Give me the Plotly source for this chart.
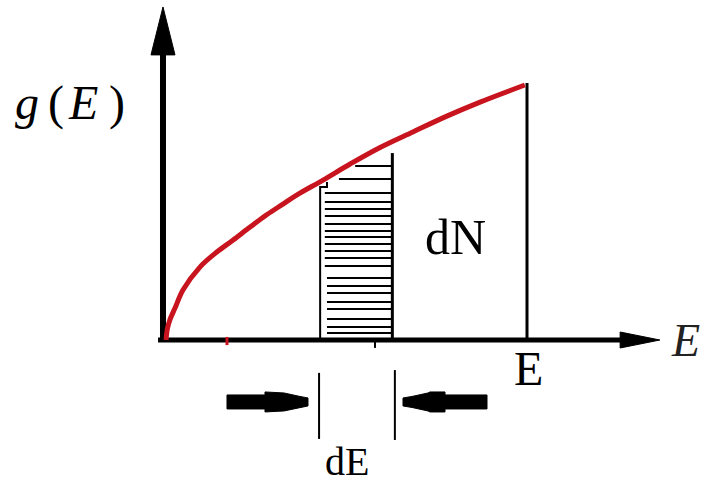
import plotly.graph_objects as go

# Density of states g(E) ~ sqrt(E); energy in units of the cut-off E, g in units of g(E)
curve_E = [0.0, 0.004, 0.011, 0.025, 0.047, 0.094, 0.141, 0.186, 0.233, 0.280, 0.324, 0.363,
           0.435, 0.510, 0.593, 0.684, 0.778, 0.870, 0.994]
curve_g = [0.0, 0.045, 0.080, 0.125, 0.196, 0.286, 0.345, 0.392, 0.443, 0.492, 0.533, 0.569,
           0.627, 0.690, 0.755, 0.816, 0.878, 0.933, 1.000]

E_cut = 1.0          # upper energy E
g_cut = 1.0          # g at E
strip_lo = 0.427     # left edge of the dE strip
strip_hi = 0.627     # right edge of the dE strip
strip_top_left = 0.600
strip_top_right = 0.733

# hatch levels inside the strip (g values)
hatch_g = [0.576, 0.541, 0.514, 0.486, 0.455, 0.427, 0.404, 0.376, 0.349, 0.322,
           0.290, 0.243, 0.212, 0.184, 0.149, 0.122, 0.082, 0.051, 0.027]
# short stepped lines near the top of the strip: (start E, level g)
step_lines = [(0.479, 0.631), (0.524, 0.682)]

dE_marks = [0.424, 0.634]    # vertical bars of the dE dimension
mid_tick = 0.579

BLACK = "#000000"
RED = "#c8141e"
SERIF = "Times New Roman, Liberation Serif, serif"

X_RANGE = [-0.4598, 1.4903]
Y_RANGE = [-0.5804, 1.3333]
px_x = (X_RANGE[1] - X_RANGE[0]) / 704.0
px_y = (Y_RANGE[1] - Y_RANGE[0]) / 488.0

fig = go.Figure()


def seg(xs, ys, width, color=BLACK, shape="linear"):
    fig.add_trace(go.Scatter(x=xs, y=ys, mode="lines", hoverinfo="skip",
                             line=dict(color=color, width=width, shape=shape),
                             showlegend=False))


def poly(xs, ys, color=BLACK):
    fig.add_trace(go.Scatter(x=xs + [xs[0]], y=ys + [ys[0]], mode="lines", fill="toself",
                             fillcolor=color, line=dict(color=color, width=1),
                             hoverinfo="skip", showlegend=False))


# axes
axis_x0 = -0.0083
seg([axis_x0, axis_x0], [-0.008, 1.13], 6)
poly([axis_x0 - 12 * px_x, axis_x0 + 12 * px_x, axis_x0],
     [1.118, 1.118, 1.306])
seg([-0.022, 1.27], [0.0, 0.0], 5)
poly([1.258, 1.258, 1.368], [8 * px_y, -8 * px_y, 0.0])

# hatched strip
xs, ys = [], []
for i, g in enumerate(hatch_g):
    start = 0.440 if i < 11 else 0.446
    xs += [start, strip_hi, None]
    ys += [g, g, None]
for e0, g in step_lines:
    xs += [e0, strip_hi, None]
    ys += [g, g, None]
seg(xs, ys, 2)
seg([strip_lo, strip_lo, 0.446, 0.446], [0.0, strip_top_left, strip_top_left, 0.62], 2)
seg([strip_hi, strip_hi], [0.0, strip_top_right], 3)
seg([mid_tick, mid_tick], [0.0, -0.031], 2)

# cut-off line at E
seg([E_cut, E_cut], [0.0, g_cut + 0.008], 3)

# g(E) curve
seg(curve_E, curve_g, 5, RED, shape="spline")
seg([0.169, 0.169], [0.012, -0.02], 3, RED)

# dE dimension marks
seg([dE_marks[0], dE_marks[0]], [-0.129, -0.388], 2)
seg([dE_marks[1], dE_marks[1]], [-0.118, -0.392], 2)

yc = -0.243
h = lambda p: p * px_y
left_px = [(227, 7), (265, 7), (265, 10), (284, 9), (300, 5.5), (308, 4)]
right_px = [(403, 4), (412, 5.5), (428, 9), (430, 10), (445, 10), (445, 7), (487, 7)]
for pts in (left_px, right_px):
    top = [((x - 166) / 361.0, yc + h(w)) for x, w in pts]
    bot = [((x - 166) / 361.0, yc - h(w)) for x, w in reversed(pts)]
    allp = top + bot
    poly([p[0] for p in allp], [p[1] for p in allp])

annotations = [
    dict(x=0.803, y=0.404, text="dN", font=dict(family=SERIF, size=50, color=BLACK)),
    dict(x=0.501, y=-0.478, text="dE", font=dict(family=SERIF, size=40, color=BLACK)),
    dict(x=1.003, y=-0.11, text="E", font=dict(family=SERIF, size=48, color=BLACK)),
    dict(x=1.440, y=0.0, text="<i>E</i>", font=dict(family=SERIF, size=46, color="#222222")),
    dict(x=-0.385, y=0.93, text="<i>g</i>", font=dict(family=SERIF, size=48, color=BLACK)),
    dict(x=-0.305, y=0.93, text="(", font=dict(family=SERIF, size=48, color=BLACK)),
    dict(x=-0.230, y=0.93, text="<i>E</i>", font=dict(family=SERIF, size=48, color=BLACK)),
    dict(x=-0.136, y=0.93, text=")", font=dict(family=SERIF, size=48, color=BLACK)),
]
for a in annotations:
    a.update(xref="x", yref="y", showarrow=False, xanchor="center", yanchor="middle")

fig.update_layout(
    width=704, height=488,
    margin=dict(l=0, r=0, t=0, b=0),
    paper_bgcolor="white", plot_bgcolor="white",
    xaxis=dict(range=X_RANGE, visible=False, fixedrange=True),
    yaxis=dict(range=Y_RANGE, visible=False, fixedrange=True),
    annotations=annotations,
    showlegend=False,
)

fig.write_html("out.html")
